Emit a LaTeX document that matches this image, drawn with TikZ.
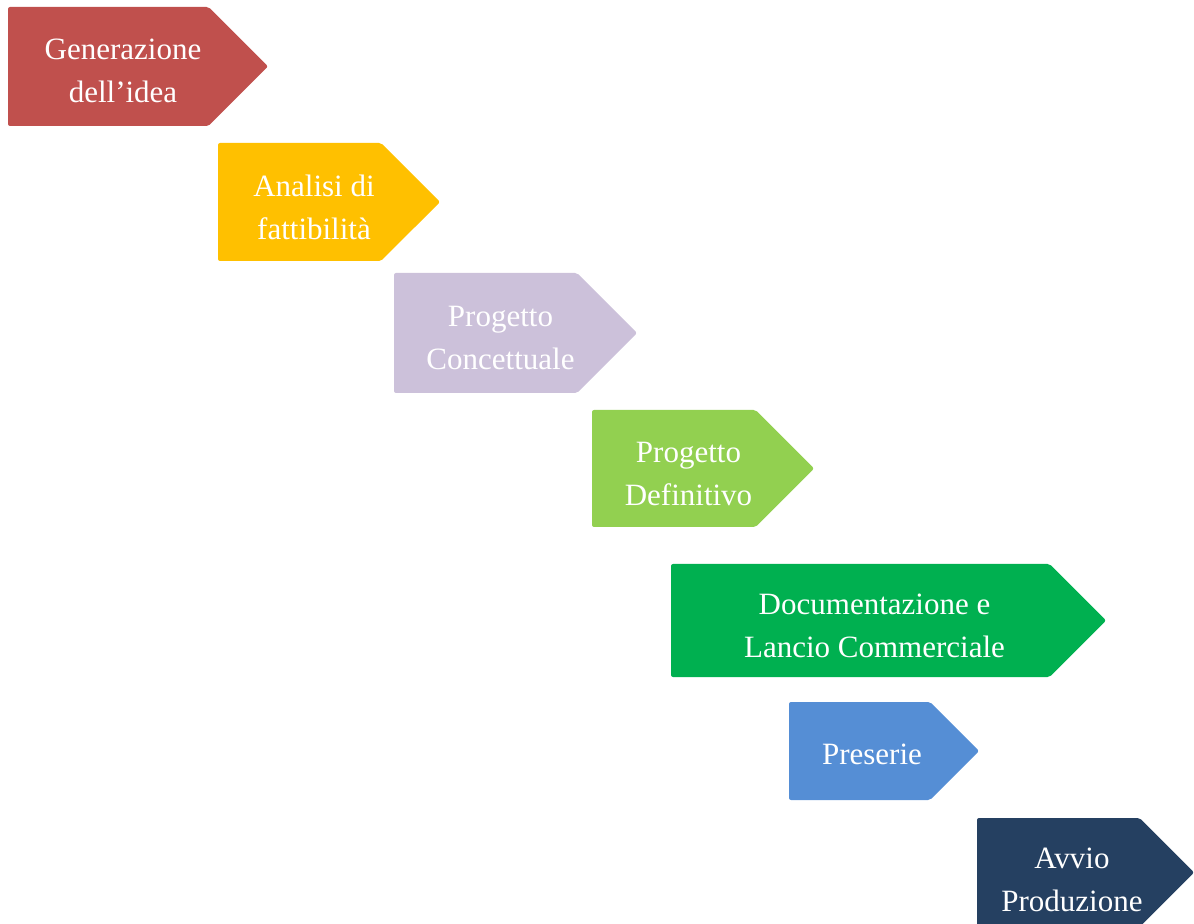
\documentclass[tikz,border=0pt]{standalone}
\usepackage{fontspec}
\setmainfont{Liberation Serif}
\usetikzlibrary{shapes.symbols}

\definecolor{rosso}{HTML}{C0504D}
\definecolor{giallo}{HTML}{FFC000}
\definecolor{lilla}{HTML}{CCC1DA}
\definecolor{verdino}{HTML}{92D050}
\definecolor{verde}{HTML}{00B050}
\definecolor{azzurro}{HTML}{558ED5}
\definecolor{blu}{HTML}{254061}

\begin{document}
\begin{tikzpicture}
  [x=0.5pt,y=-0.5pt,
   fase/.style={signal,signal to=east,signal pointer angle=90,draw=none,
     inner sep=0pt,rounded corners=1pt},
   testo/.style={text=white,align=center,inner sep=0pt,
     font=\fontsize{15.5}{21.5}\selectfont}]
  \useasboundingbox (0,0) rectangle (1194,924);

  \node[fase,fill=rosso,minimum width=130pt,minimum height=59.5pt] (idea) at (108.25,66.5) {};
  \node[testo] (tidea) at (123,71) {Generazione\\dell'idea};

  \node[fase,fill=giallo,minimum width=111pt,minimum height=59pt] (fatt) at (299.5,202) {};
  \node[testo] (tfatt) at (314,207) {Analisi di\\fattibilità};

  \node[fase,fill=lilla,minimum width=121.5pt,minimum height=60pt] (conc) at (485.5,333) {};
  \node[testo] (tconc) at (500.5,338) {Progetto\\Concettuale};

  \node[fase,fill=verdino,minimum width=111pt,minimum height=58.5pt] (defi) at (673.75,468.5) {};
  \node[testo] (tdefi) at (688.5,474) {Progetto\\Definitivo};

  \node[fase,fill=verde,minimum width=217.5pt,minimum height=56.5pt] (doc) at (860.25,620.5) {};
  \node[testo] (tdoc) at (874.5,626) {Documentazione e\\Lancio Commerciale};

  \node[fase,fill=azzurro,minimum width=95pt,minimum height=49pt] (pres) at (859.5,751) {};
  \node[testo] (tpres) at (872,754) {Preserie};

  \node[fase,fill=blu,minimum width=108.5pt,minimum height=54.5pt] (avvio) at (1058.25,872.5) {};
  \node[testo] (tavvio) at (1072,880) {Avvio\\Produzione};

\end{tikzpicture}
\end{document}
